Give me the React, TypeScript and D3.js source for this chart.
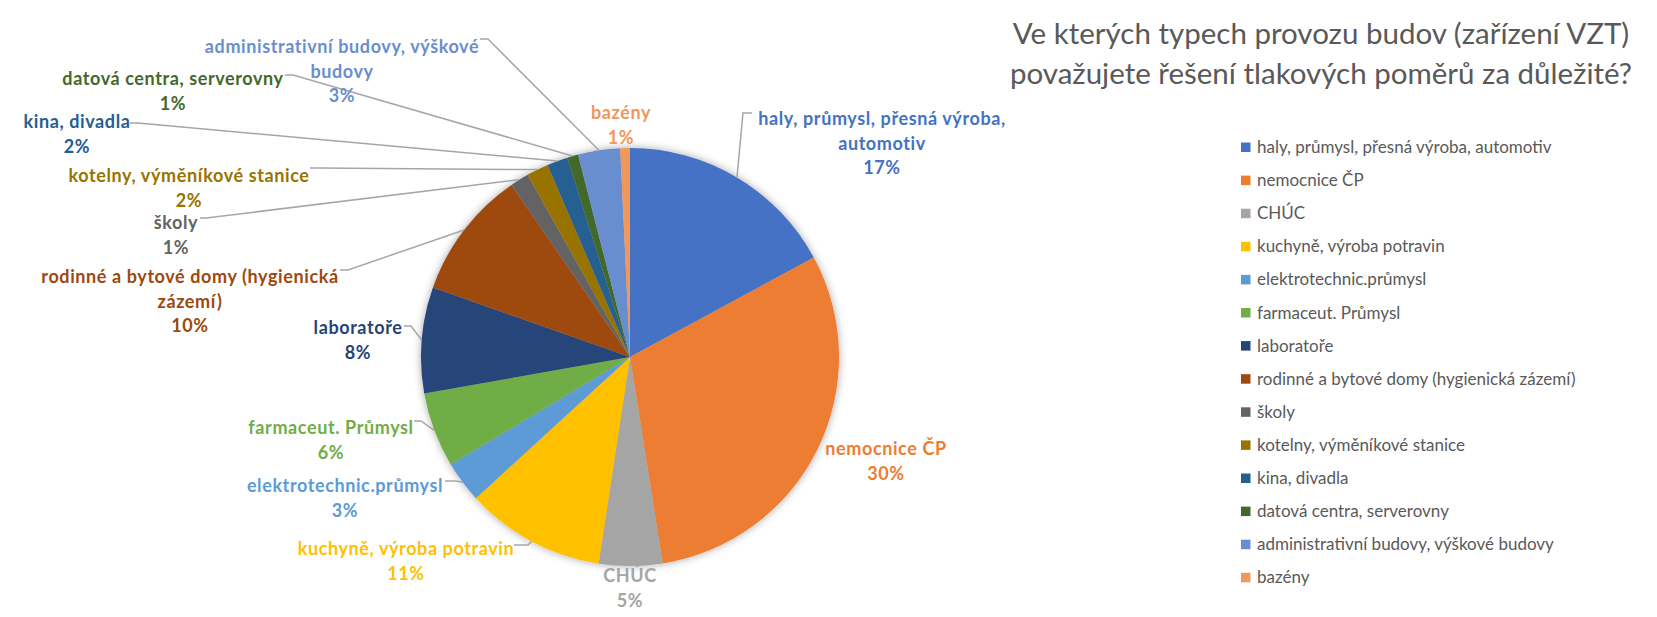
import * as d3 from 'd3'

const W = 1657
const H = 617

const title = [
  'Ve kterých typech provozu budov (zařízení VZT)',
  'považujete řešení tlakových poměrů za důležité?',
]

const categories = [
  'haly, průmysl, přesná výroba, automotiv',
  'nemocnice ČP',
  'CHÚC',
  'kuchyně, výroba potravin',
  'elektrotechnic.průmysl',
  'farmaceut. Průmysl',
  'laboratoře',
  'rodinné a bytové domy (hygienická zázemí)',
  'školy',
  'kotelny, výměníkové stanice',
  'kina, divadla',
  'datová centra, serverovny',
  'administrativní budovy, výškové budovy',
  'bazény',
]

// share of answers (%)
const shares = [17.1, 30.4, 4.9, 10.8, 3.2, 5.8, 8.2, 10.0, 1.45, 1.7, 1.6, 0.85, 3.25, 0.75]

const colors = [
  '#4472C4', '#ED7D31', '#A5A5A5', '#FFC000', '#5B9BD5', '#70AD47', '#264478',
  '#9E480E', '#636363', '#997300', '#255E91', '#43682B', '#698ED0', '#F1975A',
]

// data label text as wrapped in the chart
const labelText = [
  ['haly, průmysl, přesná výroba,', 'automotiv'],
  ['nemocnice ČP'],
  ['CHÚC'],
  ['kuchyně, výroba potravin'],
  ['elektrotechnic.průmysl'],
  ['farmaceut. Průmysl'],
  ['laboratoře'],
  ['rodinné a bytové domy (hygienická', 'zázemí)'],
  ['školy'],
  ['kotelny, výměníkové stanice'],
  ['kina, divadla'],
  ['datová centra, serverovny'],
  ['administrativní budovy, výškové', 'budovy'],
  ['bazény'],
]

// label placement: centre x, first baseline, leader start points (null = no leader)
const labelLayout: { x: number; y: number; lead: [number, number][] | null }[] = [
  { x: 882, y: 125, lead: [[752, 113], [743, 113]] },
  { x: 886, y: 455, lead: null },
  { x: 630, y: 582, lead: null },
  { x: 406, y: 555, lead: [[514, 545], [528, 545]] },
  { x: 345, y: 492, lead: [[445, 481], [455, 481]] },
  { x: 331, y: 434, lead: [[414, 421], [421, 421]] },
  { x: 358, y: 334, lead: [[404, 326], [411, 326]] },
  { x: 190, y: 283, lead: [[340, 270], [348, 270]] },
  { x: 176, y: 229, lead: [[200, 218], [206, 218]] },
  { x: 189, y: 182, lead: [[310, 168], [318, 168]] },
  { x: 77, y: 128, lead: [[130, 123], [138, 123]] },
  { x: 173, y: 85, lead: [[285, 75], [293, 75]] },
  { x: 342, y: 53, lead: [[480, 39], [488, 39]] },
  { x: 621, y: 119, lead: null },
]

const FONT = 'Lato, "Open Sans", sans-serif'

export default function App() {
  const cx = 630
  const cy = 357
  const r = 209
  const total = d3.sum(shares)
  const arcs = d3.pie<number>().sort(null).value(d => d)(shares)
  const arc = d3.arc<d3.PieArcDatum<number>>().innerRadius(0).outerRadius(r)
  const edge = d3.arc<d3.PieArcDatum<number>>().innerRadius(r).outerRadius(r)
  const line = d3.line()

  const legendX = 1241
  const legendY = 147
  const legendStep = 33.1

  return (
    <svg width={W} height={H} style={{ position: 'absolute', left: 0, top: 0, background: '#fff' }}>
      <defs>
        <filter id="sh" x="-20%" y="-20%" width="140%" height="140%">
          <feGaussianBlur in="SourceAlpha" stdDeviation="4" />
          <feComponentTransfer><feFuncA type="linear" slope="0.35" /></feComponentTransfer>
          <feMerge><feMergeNode /><feMergeNode in="SourceGraphic" /></feMerge>
        </filter>
      </defs>

      <g fontFamily={FONT} fill="#595959" fontSize={29.5} textAnchor="middle">
        {title.map((t, i) => (
          <text key={i} x={1321} y={44 + i * 40}>{t}</text>
        ))}
      </g>

      <g transform={`translate(${cx},${cy})`} filter="url(#sh)">
        {arcs.map((a, i) => (
          <path key={i} d={arc(a) ?? ''} fill={colors[i]} />
        ))}
      </g>

      <g fill="none" stroke="#A6A6A6" strokeWidth={1.5}>
        {arcs.map((a, i) => {
          const lay = labelLayout[i]
          if (!lay.lead) return null
          const [ex, ey] = edge.centroid(a)
          const pts: [number, number][] = [...lay.lead, [cx + ex, cy + ey]]
          return <path key={i} d={line(pts) ?? ''} />
        })}
      </g>

      <g fontFamily={FONT} fontWeight={700} fontSize={18} letterSpacing={0.6} textAnchor="middle">
        {arcs.map((a, i) => {
          const lay = labelLayout[i]
          const lines = [...labelText[i], `${Math.round((a.value / total) * 100)}%`]
          return (
            <text key={i} fill={colors[i]}>
              {lines.map((l, j) => (
                <tspan key={j} x={lay.x} y={lay.y + j * 24.5}>{l}</tspan>
              ))}
            </text>
          )
        })}
      </g>

      <g fontFamily={FONT} fontSize={17} fill="#595959">
        {categories.map((c, i) => (
          <g key={i} transform={`translate(${legendX},${legendY + i * legendStep})`}>
            <rect x={0} y={-4.5} width={9.5} height={9.5} fill={colors[i]} />
            <text x={16} y={6}>{c}</text>
          </g>
        ))}
      </g>
    </svg>
  )
}
